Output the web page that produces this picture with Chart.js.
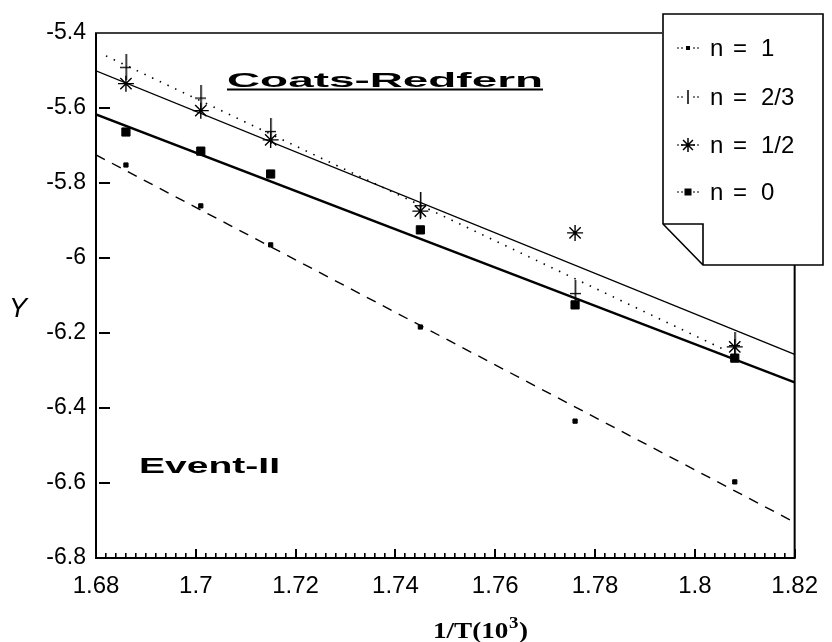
<!DOCTYPE html>
<html>
<head>
<meta charset="utf-8">
<script src="https://cdn.jsdelivr.net/npm/chart.js@4.4.1/dist/chart.umd.min.js"></script>
<style>
  html, body { margin: 0; background: #fff; }
  #wrap { width: 832px; height: 642px; position: relative; }
</style>
</head>
<body>
<div id="wrap"><canvas id="crChart"></canvas></div>
<script>
// ---- data ----
const xVals = [1.686, 1.701, 1.715, 1.745, 1.776, 1.808];
const yN1   = [-5.752, -5.861, -5.965, -6.184, -6.435, -6.597];
const yN23  = [-5.49, -5.572, -5.661, -5.859, -6.093, -6.232];
const yN12  = [-5.535, -5.607, -5.685, -5.875, -5.933, -6.237];
const yN0   = [-5.664, -5.715, -5.776, -5.925, -6.125, -6.267];

// fitted straight lines (end points)
const fitN1  = [[1.68, -5.725], [1.82, -6.705]];
const fitN23 = [[1.682, -5.461], [1.806, -6.245]];
const fitN12 = [[1.68, -5.501], [1.82, -6.257]];
const fitN0  = [[1.68, -5.617], [1.82, -6.332]];

const legendLabels = ['1', '2/3', '1/2', '0'];
const yTickVals = [-5.6, -5.8, -6, -6.2, -6.4, -6.6];
const xMinorStep = 0.002;

const SANS = 'Arial, "Liberation Sans", Helvetica, sans-serif';
const SERIF = '"Times New Roman", "Liberation Serif", Times, serif';

const pts = ys => xVals.map((x, i) => ({ x: x, y: ys[i] }));
const seg = arr => arr.map(p => ({ x: p[0], y: p[1] }));

// tall "+" marker used for n = 2/3
function makePlus(h, w) {
  const c = document.createElement('canvas');
  c.width = w; c.height = h;
  const g = c.getContext('2d');
  g.fillStyle = '#000';
  g.fillRect(Math.floor(w / 2), 0, 1.5, h);
  g.fillRect(0, Math.floor(h / 2), w, 1.3);
  return c;
}
const plusMark = makePlus(26, 11);

function fitLine(data, width, dash) {
  return {
    data: seg(data), showLine: true, pointRadius: 0,
    borderColor: '#000', borderWidth: width, borderDash: dash, fill: false
  };
}
function markSet(data, style, radius, lw) {
  return {
    data: pts(data), showLine: false, pointStyle: style, pointRadius: radius,
    backgroundColor: '#000', borderColor: '#000', pointBorderWidth: lw
  };
}

// frame, inside ticks, legend note and free text
const decorPlugin = {
  id: 'decor',
  afterDraw(chart) {
    const ctx = chart.ctx;
    const a = chart.chartArea;
    const xs = chart.scales.x, ys = chart.scales.y;
    ctx.save();
    ctx.setLineDash([]);
    ctx.strokeStyle = '#000';
    ctx.fillStyle = '#000';

    // axis frame
    ctx.fillRect(a.left - 1, a.top, 2, a.bottom - a.top + 1);
    ctx.fillRect(a.left - 1, a.bottom - 1, a.right - a.left + 2, 2);
    ctx.fillRect(a.right - 1, 265, 2, a.bottom - 265);
    ctx.fillRect(a.left - 1, a.top - 0.75, 663 - a.left, 1.5);

    // inside tick marks
    for (const v of yTickVals) {
      const py = Math.round(ys.getPixelForValue(v));
      ctx.fillRect(Math.round(a.left) + 3, py - 1, 11, 2);
    }
    const n = Math.round((xs.max - xs.min) / xMinorStep);
    for (let i = 0; i <= n; i++) {
      const px = Math.round(xs.getPixelForValue(xs.min + i * xMinorStep));
      const major = i % 10 === 0;
      const len = major ? 9 : 5;
      ctx.fillRect(px - 1, Math.round(a.bottom) - len, major ? 2 : 1.6, len);
    }

    // legend note with folded corner
    ctx.fillStyle = '#fff';
    ctx.lineWidth = 1.6;
    ctx.beginPath();
    ctx.moveTo(663, 14); ctx.lineTo(823, 14); ctx.lineTo(823, 265); ctx.lineTo(703, 265);
    ctx.lineTo(663, 224); ctx.closePath();
    ctx.fill(); ctx.stroke();
    ctx.beginPath();
    ctx.moveTo(663, 224); ctx.lineTo(703, 224); ctx.lineTo(703, 265);
    ctx.stroke();

    ctx.fillStyle = '#000';
    const rowY = [48, 97, 145, 192];
    const mx = 688;
    rowY.forEach((ry, i) => {
      // short dashed stub either side of the marker
      ctx.lineWidth = 1;
      ctx.setLineDash([2, 2]);
      ctx.beginPath();
      ctx.moveTo(677, ry); ctx.lineTo(683, ry);
      ctx.moveTo(693, ry); ctx.lineTo(699, ry);
      ctx.stroke();
      ctx.setLineDash([]);
      ctx.lineWidth = 1.5;
      if (i === 0) {
        ctx.fillRect(mx - 2, ry - 2, 4, 4);
      } else if (i === 1) {
        ctx.fillRect(mx - 0.75, ry - 7, 1.5, 14);
      } else if (i === 2) {
        const r = 7;
        ctx.beginPath();
        for (let k = 0; k < 4; k++) {
          const ang = k * Math.PI / 4;
          ctx.moveTo(mx - r * Math.cos(ang), ry - r * Math.sin(ang));
          ctx.lineTo(mx + r * Math.cos(ang), ry + r * Math.sin(ang));
        }
        ctx.stroke();
      } else {
        ctx.fillRect(mx - 3.5, ry - 3.5, 7, 7);
      }
      ctx.font = '24px ' + SANS;
      ctx.textBaseline = 'middle';
      ctx.textAlign = 'left';
      ctx.fillText('n', 710, ry + 1);
      ctx.fillText('=', 733, ry + 1);
      ctx.fillText(legendLabels[i], 761, ry + 1);
    });

    // stretched bold captions
    ctx.textBaseline = 'alphabetic';
    ctx.textAlign = 'left';
    const stretch = (text, x, y, w, font) => {
      ctx.save();
      ctx.font = font;
      const m = ctx.measureText(text).width;
      ctx.translate(x, y); ctx.scale(w / m, 1);
      ctx.fillText(text, 0, 0);
      ctx.restore();
    };
    stretch('Coats-Redfern', 227, 87, 316, 'bold 21px ' + SANS);
    ctx.fillRect(227, 88.5, 316, 2);
    stretch('Event-II', 139, 473, 141, 'bold 22px ' + SANS);

    // y axis title
    ctx.font = 'italic 27px ' + SANS;
    ctx.fillText('Y', 9, 317);

    // x axis title 1/T(10^3)
    ctx.save();
    const fBig = 'bold 23px ' + SERIF;
    const fSup = 'bold 16px ' + SERIF;
    ctx.font = fBig; const w1 = ctx.measureText('1/T(10').width;
    ctx.font = fSup; const w2 = ctx.measureText('3').width;
    ctx.font = fBig; const w3 = ctx.measureText(')').width;
    const k = 95 / (w1 + w2 + w3 + 1);
    ctx.translate(433, 638); ctx.scale(k, 1);
    ctx.font = fBig; ctx.fillText('1/T(10', 0, 0);
    ctx.font = fSup; ctx.fillText('3', w1 + 0.5, -10);
    ctx.font = fBig; ctx.fillText(')', w1 + w2 + 1, 0);
    ctx.restore();

    ctx.restore();
  }
};

const ctxEl = document.getElementById('crChart').getContext('2d');
new Chart(ctxEl, {
  type: 'scatter',
  data: {
    datasets: [
      fitLine(fitN1, 1.4, [10, 8]),
      fitLine(fitN23, 1.6, [1.5, 7]),
      fitLine(fitN12, 1.3, []),
      fitLine(fitN0, 2.4, []),
      markSet(yN1, 'rect', 3, 1),
      markSet(yN23, plusMark, 10, 1),
      markSet(yN12, 'star', 8, 1.4),
      markSet(yN0, 'rect', 5.8, 1)
    ]
  },
  options: {
    responsive: true,
    maintainAspectRatio: false,
    animation: false,
    layout: { padding: { top: 33, right: 30, left: 0, bottom: 0 } },
    plugins: { legend: { display: false }, tooltip: { enabled: false } },
    scales: {
      x: {
        type: 'linear', min: 1.68, max: 1.82,
        afterFit: s => { s.height = 84; },
        grid: { display: false, drawTicks: false },
        border: { display: false },
        ticks: {
          stepSize: 0.02, autoSkip: false, maxRotation: 0, minRotation: 0,
          padding: 14, color: '#000',
          font: { family: SANS, size: 24 },
          callback: v => String(Math.round(v * 50) / 50)
        }
      },
      y: {
        type: 'linear', min: -6.8, max: -5.4,
        afterFit: s => { s.width = 96; },
        grid: { display: false, drawTicks: false },
        border: { display: false },
        ticks: {
          stepSize: 0.2, padding: 10, color: '#000',
          font: { family: SANS, size: 23 },
          callback: v => String(Number(v.toFixed(1)))
        }
      }
    }
  },
  plugins: [decorPlugin]
});
</script>
</body>
</html>
